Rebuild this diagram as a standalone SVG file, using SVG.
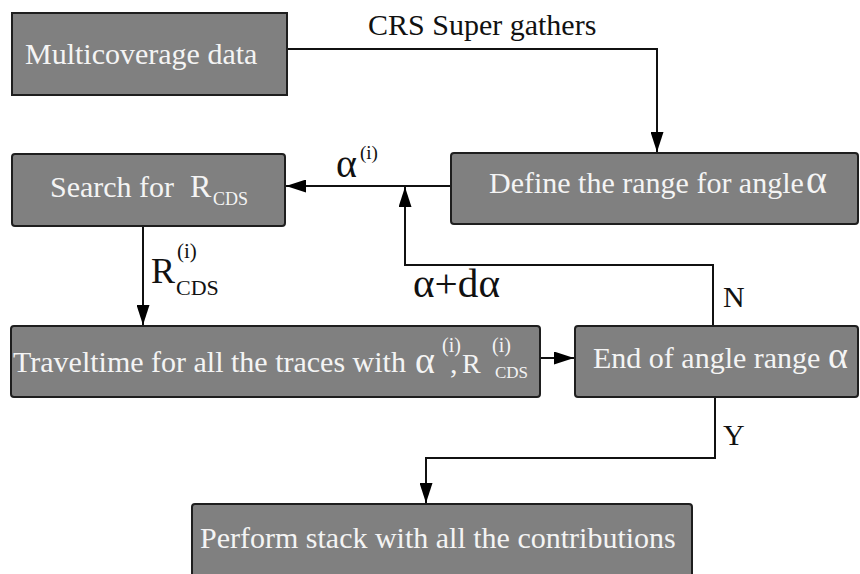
<svg xmlns="http://www.w3.org/2000/svg" width="860" height="574" viewBox="0 0 860 574">
<style>
.box{fill:#808080;stroke:#1e1e1e;stroke-width:2}
.t{font-family:'Liberation Serif','DejaVu Serif',serif;fill:#f4f4f4;font-size:30px}
.l{font-family:'Liberation Serif','DejaVu Serif',serif;fill:#111;font-size:30px}
.c{fill:none;stroke:#111;stroke-width:2}
</style>
<defs>
<marker id="ah" markerWidth="20" markerHeight="13" refX="20" refY="6.5" orient="auto" markerUnits="userSpaceOnUse"><path d="M0,0 L20,6.5 L0,13 z" fill="#000"/></marker>
</defs>
<rect width="860" height="574" fill="#fff"/>
<g id="connectors">
<path class="c" d="M287,49 H657 V152" marker-end="url(#ah)"/>
<path class="c" d="M451,186 H286" marker-end="url(#ah)"/>
<path class="c" d="M713,326 V265 H405 V187" marker-end="url(#ah)"/>
<path class="c" d="M143,226 V325" marker-end="url(#ah)"/>
<path class="c" d="M540,358 H574" marker-end="url(#ah)"/>
<path class="c" d="M715,397 V458 H426 V503" marker-end="url(#ah)"/>
</g>
<g id="labels">
<text class="l" x="368" y="35">CRS Super gathers</text>
<text class="l" x="336" y="177" style="font-size:40px">α</text>
<text class="l" x="360" y="159" style="font-size:19px">(i)</text>
<text class="l" x="151" y="283" style="font-size:36px">R</text>
<text class="l" x="177" y="258" style="font-size:21px">(i)</text>
<text class="l" x="176" y="295" style="font-size:22px">CDS</text>
<text class="l" x="413" y="297" style="font-size:39px" textLength="87" lengthAdjust="spacingAndGlyphs">α+dα</text>
<text class="l" x="723" y="307">N</text>
<text class="l" x="723" y="445">Y</text>
</g>
<g id="n1">
<rect class="box" x="12" y="13" width="275" height="82"/>
<text class="t" x="25" y="64">Multicoverage data</text>
</g>
<g id="n2">
<rect class="box" x="451" y="153" width="407" height="71" rx="3"/>
<text class="t" x="489" y="193">Define the range for angle</text>
<text class="t" x="806" y="193" style="font-size:40px">α</text>
</g>
<g id="n3">
<rect class="box" x="12" y="154" width="273" height="72" rx="3"/>
<text class="t" x="50" y="197">Search for</text>
<text class="t" x="190" y="197" style="font-size:32px">R</text>
<text class="t" x="213" y="205" style="font-size:18px">CDS</text>
</g>
<g id="n4">
<rect class="box" x="11" y="326" width="529" height="71" rx="3"/>
<text class="t" x="13" y="372">Traveltime for all the traces with</text>
<text class="t" x="415" y="373" style="font-size:38px">α<tspan x="442" y="352" style="font-size:20px">(i)</tspan><tspan x="450" y="373" style="font-size:30px">,</tspan></text>
<text class="t" x="462" y="373" style="font-size:28px">R<tspan x="492" y="352" style="font-size:20px">(i)</tspan><tspan x="495" y="378" style="font-size:17px">CDS</tspan></text>
</g>
<g id="n5">
<rect class="box" x="575" y="326" width="283" height="71" rx="3"/>
<text class="t" x="593" y="368">End of angle range</text>
<text class="t" x="828" y="368" style="font-size:38px">α</text>
</g>
<g id="n6">
<rect class="box" x="192" y="504" width="500" height="80" rx="3"/>
<text class="t" x="200" y="548">Perform stack with all the contributions</text>
</g>
</svg>
